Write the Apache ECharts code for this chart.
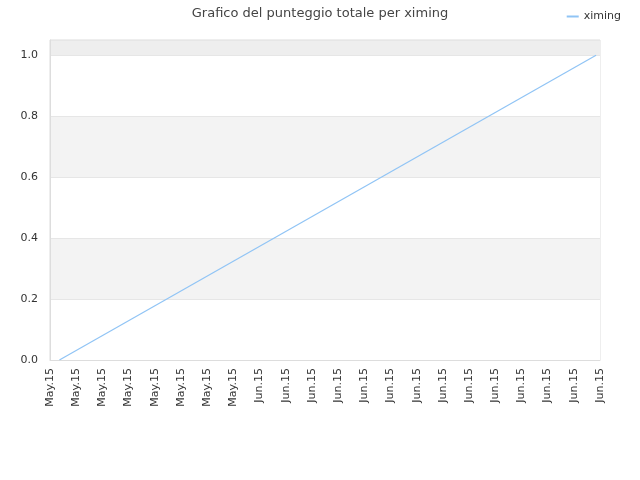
<!DOCTYPE html>
<html>
<head>
<meta charset="utf-8">
<script src="https://cdn.jsdelivr.net/npm/echarts@6/dist/echarts.min.js"></script>
<style>
  html, body { margin: 0; padding: 0; background: #fff; }
  #chart { width: 640px; height: 480px; }
</style>
</head>
<body>
<div id="chart"></div>
<script>
// etichette dell'asse x (una per tick)
var tickLabels = ['May.15','May.15','May.15','May.15','May.15','May.15','May.15','May.15',
    'Jun.15','Jun.15','Jun.15','Jun.15','Jun.15','Jun.15','Jun.15','Jun.15',
    'Jun.15','Jun.15','Jun.15','Jun.15','Jun.15','Jun.15'];
// posizione dei punti sull'asse x (in unita di tick)
var pointX = [0.36, 20.85];
// punteggio totale
var scores = [0, 1];

var chart = echarts.init(document.getElementById('chart'));

var lineData = [];
for (var i = 0; i < scores.length; i++) {
    lineData.push([pointX[i], scores[i]]);
}

var option = {
    animation: false,
    textStyle: { fontFamily: 'DejaVu Sans' },
    title: {
        text: 'Grafico del punteggio totale per ximing',
        left: 'center',
        top: 2,
        textStyle: { fontSize: 13, fontWeight: 'normal', color: '#444', fontFamily: 'DejaVu Sans' }
    },
    legend: {
        data: ['ximing'],
        right: 14,
        top: 6,
        itemWidth: 12,
        itemHeight: 2,
        icon: 'rect',
        textStyle: { fontSize: 11, color: '#333' }
    },
    grid: {
        left: 50,
        right: 40,
        top: 40,
        bottom: 120,
        containLabel: false,
        show: true,
        borderColor: '#ddd',
        borderWidth: 1
    },
    xAxis: {
        type: 'value',
        min: 0,
        max: tickLabels.length - 1,
        interval: 1,
        axisLine: { show: true, lineStyle: { color: '#ddd' } },
        axisTick: { show: false },
        splitLine: { show: false },
        axisLabel: {
            rotate: 90,
            fontSize: 11,
            color: '#333',
            margin: 8,
            formatter: function (v) { return tickLabels[Math.round(v)] || ''; }
        }
    },
    yAxis: {
        type: 'value',
        min: 0,
        max: 1.05,
        interval: 0.2,
        axisLine: { show: true, lineStyle: { color: '#ddd' } },
        axisTick: { show: false },
        axisLabel: {
            fontSize: 11,
            color: '#333',
            margin: 12,
            showMaxLabel: false,
            formatter: function (v) { return v.toFixed(1); }
        },
        splitLine: { show: true, lineStyle: { color: '#e6e6e6' } },
        splitArea: {
            show: true,
            areaStyle: { color: ['#ffffff', '#f3f3f3', '#ffffff', '#f3f3f3', '#ffffff', '#eeeeee'] }
        }
    },
    series: [{
        name: 'ximing',
        type: 'line',
        data: lineData,
        symbol: 'none',
        lineStyle: { color: '#90c4f5', width: 1.2 },
        itemStyle: { color: '#90c4f5' }
    }]
};

chart.setOption(option);
</script>
</body>
</html>
